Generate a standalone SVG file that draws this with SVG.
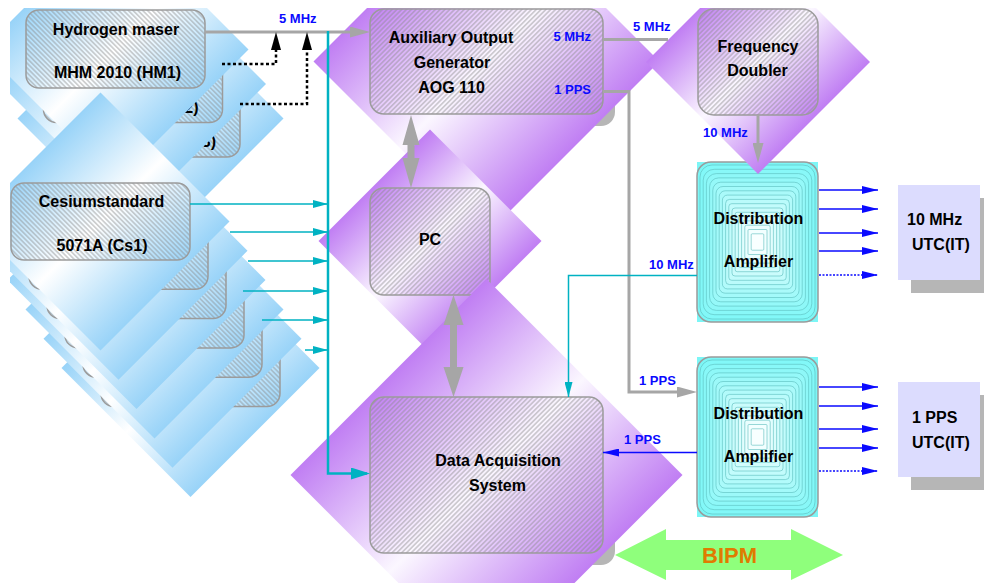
<svg xmlns="http://www.w3.org/2000/svg" xmlns:xlink="http://www.w3.org/1999/xlink" width="984" height="583" viewBox="0 0 984 583">
<style>
.t{font-family:"Liberation Sans",Arial,sans-serif;font-weight:bold;font-size:16px;fill:#000;text-anchor:middle}
.lb{font-family:"Liberation Sans",Arial,sans-serif;font-weight:bold;font-size:13px;fill:#0a0aff}
.ot{font-family:"Liberation Sans",Arial,sans-serif;font-weight:bold;font-size:16px;fill:#000}
.bx{stroke:#9b9b9b;stroke-width:1.5}
.hb{fill:url(#hB)}
.hp{fill:url(#hP)}
.db{fill:url(#gB)}
.dp{fill:url(#gP)}
.sh{fill:#b6b6b6}
.ring{stroke:#5bbcbc;stroke-width:0.6}
.ob{fill:#dcdcfe}
.gl{fill:none;stroke:#a6a6a6;stroke-width:3}
.cl{fill:none;stroke:#00b2c2;stroke-width:1.5}
.bus{fill:none;stroke:#00b2c2;stroke-width:2.5}
.bl{fill:none;stroke:#0a0aff;stroke-width:1.5}
.dt{stroke-dasharray:2 1.5}
.blk{fill:none;stroke:#000;stroke-width:2.5;stroke-dasharray:3 2.5}
.ba{fill:#a6a6a6}
</style>
<defs>
<linearGradient id="gP" gradientUnits="userSpaceOnUse" x1="-0.5" y1="-0.5" x2="0.5" y2="0.5">
<stop offset="0" stop-color="#c07ef3"/><stop offset="0.5" stop-color="#fbf7ff"/><stop offset="1" stop-color="#c07ef3"/>
</linearGradient>
<linearGradient id="gB" gradientUnits="userSpaceOnUse" x1="-0.5" y1="-0.5" x2="0.5" y2="0.5">
<stop offset="0" stop-color="#98d3f8"/><stop offset="0.5" stop-color="#ffffff"/><stop offset="1" stop-color="#98d3f8"/>
</linearGradient>
<pattern id="hB" width="3.4" height="3.4" patternUnits="userSpaceOnUse" patternTransform="rotate(-45)">
<line x1="1.7" y1="0" x2="1.7" y2="3.4" stroke="#8a8a8a" stroke-width="0.7"/>
</pattern>
<pattern id="hP" width="3.4" height="3.4" patternUnits="userSpaceOnUse" patternTransform="rotate(45)">
<line x1="1.7" y1="0" x2="1.7" y2="3.4" stroke="#8a8a8a" stroke-width="0.7"/>
</pattern>
<polygon id="dm" points="0,-1 1,0 0,1 -1,0"/>
<clipPath id="area"><rect x="10" y="8" width="974" height="575"/></clipPath>
<g id="daFill">
<rect x="0" y="0" width="121" height="160" fill="#7cf6f6"/>
<rect class="ring" x="3" y="3" width="115" height="154" rx="12" fill="#82f8f8"/>
<rect class="ring" x="6.2" y="7.3" width="108.6" height="145.4" rx="11" fill="#88f8f8"/>
<rect class="ring" x="9.4" y="11.6" width="102.2" height="136.8" rx="10" fill="#8ef8f8"/>
<rect class="ring" x="12.6" y="15.9" width="95.8" height="128.2" rx="9" fill="#95f9f9"/>
<rect class="ring" x="15.8" y="20.2" width="89.4" height="119.6" rx="8" fill="#9cf9f9"/>
<rect class="ring" x="19" y="24.5" width="83" height="111" rx="7" fill="#a3fafa"/>
<rect class="ring" x="22.2" y="28.8" width="76.6" height="102.4" rx="6" fill="#aafafa"/>
<rect class="ring" x="25.4" y="33.1" width="70.2" height="93.8" rx="5" fill="#b2fbfb"/>
<rect class="ring" x="28.6" y="37.4" width="63.8" height="85.2" rx="4" fill="#bafbfb"/>
<rect class="ring" x="31.8" y="41.7" width="57.4" height="76.6" rx="3" fill="#c2fcfc"/>
<rect class="ring" x="35" y="46" width="51" height="68" rx="3" fill="#cafcfc"/>
<rect class="ring" x="38.2" y="50.3" width="44.6" height="59.4" rx="2" fill="#d2fdfd"/>
<rect class="ring" x="41.4" y="54.6" width="38.2" height="50.8" rx="2" fill="#dafdfd"/>
<rect class="ring" x="44.6" y="58.9" width="31.8" height="42.2" rx="2" fill="#e2fefe"/>
<rect class="ring" x="47.8" y="63.2" width="25.4" height="33.6" rx="2" fill="#eafefe"/>
<rect class="ring" x="51" y="67.5" width="19" height="25" rx="1" fill="#f2ffff"/>
<rect class="ring" x="54.2" y="71.8" width="12.6" height="16.4" rx="1" fill="#f8ffff"/>
</g>
<marker id="aGray" markerUnits="userSpaceOnUse" markerWidth="20" markerHeight="11" refX="2" refY="5.5" orient="auto"><path d="M0,0 L20,5.5 L0,11 z" fill="#a6a6a6"/></marker>
<marker id="aTeal" markerUnits="userSpaceOnUse" markerWidth="15" markerHeight="8" refX="15" refY="4" orient="auto"><path d="M0,0 L15,4 L0,8 z" fill="#00b2c2"/></marker>
<marker id="aTealBig" markerUnits="userSpaceOnUse" markerWidth="19" markerHeight="12" refX="16" refY="6" orient="auto"><path d="M0,0 L19,6 L0,12 z" fill="#00b2c2"/></marker>
<marker id="aBlue" markerUnits="userSpaceOnUse" markerWidth="16" markerHeight="8" refX="16" refY="4" orient="auto"><path d="M0,0 L16,4 L0,8 z" fill="#0a0aff"/></marker>
<marker id="aBlk" markerUnits="userSpaceOnUse" markerWidth="18" markerHeight="10" refX="0" refY="5" orient="auto"><path d="M0,0 L18,5 L0,10 z" fill="#000"/></marker>
</defs>

<g id="nodes" clip-path="url(#area)">
<g id="hm3">
<use href="#dm" class="db" transform="translate(150.5,118.5) scale(133)"/>
<rect class="bx hb" x="61" y="79" width="179" height="78" rx="13"/>
<text class="t" x="152.5" y="146.5">MHM 2010 (HM3)</text>
</g>
<g id="hm2">
<use href="#dm" class="db" transform="translate(133,84) scale(133)"/>
<rect class="bx hb" x="43.5" y="44.5" width="179" height="78" rx="13"/>
<text class="t" x="135" y="112.5">MHM 2010 (HM2)</text>
</g>
<g id="hm1">
<use href="#dm" class="db" transform="translate(115.5,49.5) scale(133)"/>
<rect class="bx hb" x="26" y="10" width="179" height="78" rx="13"/>
<text class="t" x="116" y="35">Hydrogen maser</text>
<text class="t" x="117.5" y="78">MHM 2010 (HM1)</text>
</g>
<g id="cs6">
<use href="#dm" class="db" transform="translate(190.5,368) scale(129)"/>
<rect class="bx hb" x="101" y="329.5" width="179" height="77" rx="13"/>
</g>
<g id="cs5">
<use href="#dm" class="db" transform="translate(172.5,338.7) scale(129)"/>
<rect class="bx hb" x="83" y="300.2" width="179" height="77" rx="13"/>
</g>
<g id="cs4">
<use href="#dm" class="db" transform="translate(154.5,309.4) scale(129)"/>
<rect class="bx hb" x="65" y="270.9" width="179" height="77" rx="13"/>
</g>
<g id="cs3">
<use href="#dm" class="db" transform="translate(136.5,280.1) scale(129)"/>
<rect class="bx hb" x="47" y="241.6" width="179" height="77" rx="13"/>
</g>
<g id="cs2">
<use href="#dm" class="db" transform="translate(118.5,250.8) scale(129)"/>
<rect class="bx hb" x="29" y="212.3" width="179" height="77" rx="13"/>
</g>
<g id="cs1">
<use href="#dm" class="db" transform="translate(100.5,221.5) scale(129)"/>
<rect class="bx hb" x="11" y="183" width="179" height="77" rx="13"/>
<text class="t" x="101.5" y="207">Cesiumstandard</text>
<text class="t" x="102" y="251">5071A (Cs1)</text>
</g>
<g id="aog">
<rect class="sh" x="382" y="21" width="233" height="105" rx="14"/>
<use href="#dm" class="dp" transform="translate(486.5,61.5) scale(173)"/>
<rect class="bx hp" x="370" y="9" width="233" height="105" rx="14"/>
<text class="t" x="451" y="43">Auxiliary Output</text>
<text class="t" x="452" y="67.5">Generator</text>
<text class="t" x="451.5" y="92.5">AOG 110</text>
</g>
<g id="pc">
<use href="#dm" class="dp" transform="translate(430,241) scale(111.5)"/>
<rect class="bx hp" x="370" y="188" width="120" height="107" rx="14"/>
<text class="t" x="430" y="245">PC</text>
</g>
<g id="das">
<rect class="sh" x="382" y="409" width="233" height="156" rx="14"/>
<use href="#dm" class="dp" transform="translate(486.5,475) scale(196)"/>
<rect class="bx hp" x="370" y="397" width="233" height="156" rx="14"/>
<text class="t" x="498" y="466">Data Acquisition</text>
<text class="t" x="497.5" y="491">System</text>
</g>
<g id="da1">
<use href="#daFill" x="697" y="162"/>
<rect class="bx" x="697" y="162" width="121" height="160" rx="14" fill="none"/>
<text class="t" x="758.5" y="224">Distribution</text>
<text class="t" x="758.5" y="266.5">Amplifier</text>
</g>
<g id="da2">
<use href="#daFill" x="697" y="357"/>
<rect class="bx" x="697" y="357" width="121" height="160" rx="14" fill="none"/>
<text class="t" x="758.5" y="418.5">Distribution</text>
<text class="t" x="758.5" y="461.5">Amplifier</text>
</g>
<g id="fd">
<use href="#dm" class="dp" transform="translate(758,62) scale(112)"/>
<rect class="bx hp" x="698" y="9" width="120" height="106" rx="16"/>
<text class="t" x="758" y="52">Frequency</text>
<text class="t" x="757.5" y="76">Doubler</text>
</g>
<g id="out10">
<rect class="sh" x="911" y="198" width="82" height="95"/>
<rect class="ob" x="898" y="185" width="82" height="95"/>
<text class="ot" x="907" y="225">10 MHz</text>
<text class="ot" x="912" y="250">UTC(IT)</text>
</g>
<g id="out1pps">
<rect class="sh" x="911" y="395" width="82" height="95"/>
<rect class="ob" x="898" y="382" width="82" height="95"/>
<text class="ot" x="912" y="422.5">1 PPS</text>
<text class="ot" x="912" y="447.5">UTC(IT)</text>
</g>
<g id="bipm">
<polygon points="615,555 666,529 666,540 791,540 791,529 843,555 791,580 791,570 666,570 666,580" fill="#8fff7c"/>
<text x="729.5" y="562.5" font-family="Liberation Sans, Arial, sans-serif" font-weight="bold" font-size="22" fill="#e07b00" text-anchor="middle">BIPM</text>
</g>
</g>

<g id="connectors">
<path class="gl" d="M205,32 H352" marker-end="url(#aGray)"/>
<path class="blk" d="M222,64 H276 V50" marker-end="url(#aBlk)"/>
<path class="blk" d="M240,104 H307 V50" marker-end="url(#aBlk)"/>
<path class="bus" d="M328,31 V473.5 H367" marker-end="url(#aTealBig)"/>
<path class="cl" d="M190,204 H328" marker-end="url(#aTeal)"/>
<path class="cl" d="M230,232 H328" marker-end="url(#aTeal)"/>
<path class="cl" d="M248,261 H328" marker-end="url(#aTeal)"/>
<path class="cl" d="M243,291 H328" marker-end="url(#aTeal)"/>
<path class="cl" d="M262,320 H328" marker-end="url(#aTeal)"/>
<path class="cl" d="M305,350 H328" marker-end="url(#aTeal)"/>
<path class="gl" d="M603,39.5 H668"/>
<path class="gl" d="M603,91.5 H629 V392 H679" marker-end="url(#aGray)"/>
<path class="gl" d="M758,115 V145" marker-end="url(#aGray)"/>
<path class="ba" d="M411,115 L419.5,145 L414.5,145 L414.5,158 L419.5,158 L411,188 L402.5,158 L407.5,158 L407.5,145 L402.5,145 Z"/>
<path class="ba" d="M453.5,295 L463.5,325 L457,325 L457,367 L463.5,367 L453.5,397 L443.5,367 L450,367 L450,325 L443.5,325 Z"/>
<path class="cl" d="M697,275.5 H568.5 V397" marker-end="url(#aTeal)"/>
<path class="bl" d="M697,452.5 H603" marker-end="url(#aBlue)"/>
<path class="bl" d="M819,190 H878" marker-end="url(#aBlue)"/>
<path class="bl" d="M819,209 H878" marker-end="url(#aBlue)"/>
<path class="bl" d="M819,233 H878" marker-end="url(#aBlue)"/>
<path class="bl" d="M819,251 H878" marker-end="url(#aBlue)"/>
<path class="bl dt" d="M819,275 H878" marker-end="url(#aBlue)"/>
<path class="bl" d="M819,387 H878" marker-end="url(#aBlue)"/>
<path class="bl" d="M819,406 H878" marker-end="url(#aBlue)"/>
<path class="bl" d="M819,429 H878" marker-end="url(#aBlue)"/>
<path class="bl" d="M819,448 H878" marker-end="url(#aBlue)"/>
<path class="bl dt" d="M819,471 H878" marker-end="url(#aBlue)"/>
<text class="lb" x="279" y="22.5">5 MHz</text>
<text class="lb" x="591" y="40.5" text-anchor="end">5 MHz</text>
<text class="lb" x="591" y="94" text-anchor="end">1 PPS</text>
<text class="lb" x="633" y="30.5">5 MHz</text>
<text class="lb" x="703" y="136.5">10 MHz</text>
<text class="lb" x="649" y="269">10 MHz</text>
<text class="lb" x="639" y="385">1 PPS</text>
<text class="lb" x="624" y="444">1 PPS</text>
</g>
</svg>
